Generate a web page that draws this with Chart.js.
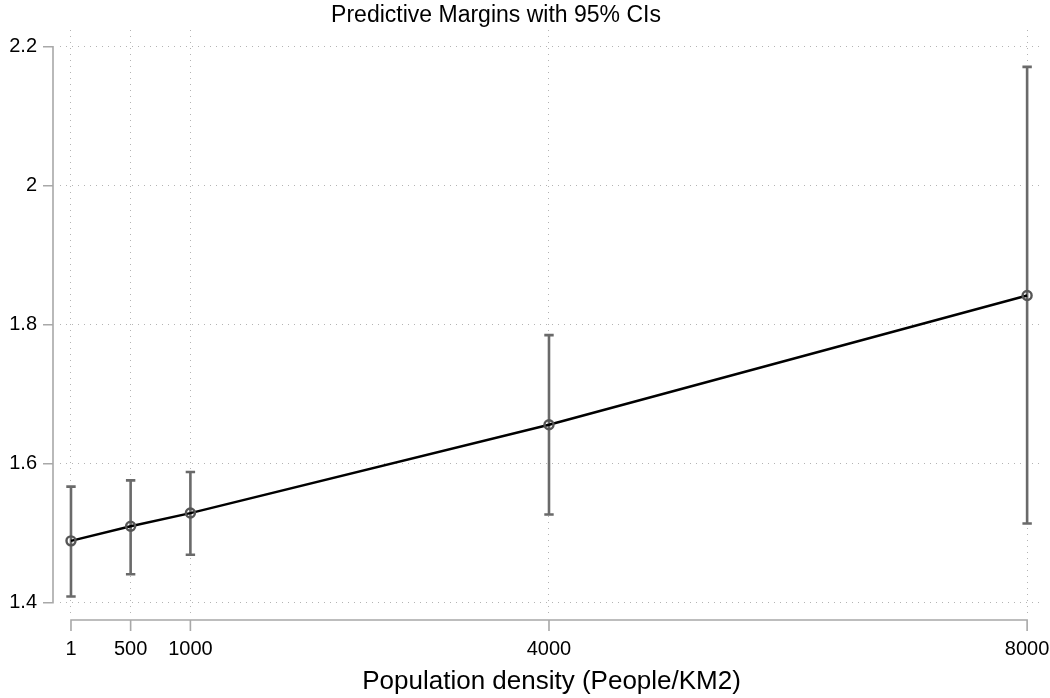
<!DOCTYPE html>
<html>
<head>
<meta charset="utf-8">
<script src="https://cdn.jsdelivr.net/npm/chart.js@4/dist/chart.umd.min.js"></script>
<style>
  html, body { margin: 0; padding: 0; background: #fff; }
  #wrap { width: 1050px; height: 698px; position: relative; }
</style>
</head>
<body>
<div id="wrap"><canvas id="c"></canvas></div>
<script>
// ---- data ----
const densities = [1, 500, 1000, 4000, 8000];
const margins   = [1.489, 1.510, 1.529, 1.656, 1.842];
const ciLower   = [1.409, 1.441, 1.469, 1.527, 1.514];
const ciUpper   = [1.567, 1.576, 1.588, 1.785, 2.171];
const xTicks    = [1, 500, 1000, 4000, 8000];
const yTicks    = [1.4, 1.6, 1.8, 2.0, 2.2];
const yTickLabels = ['1.4', '1.6', '1.8', '2', '2.2'];
const chartTitle = 'Predictive Margins with 95% CIs';
const xTitle = 'Population density (People/KM2)';

const FONT = '"Liberation Sans", Arial, Helvetica, sans-serif';

const points = densities.map((d, i) => ({ x: d, y: margins[i] }));

const errorBars = {
  id: 'errorBars',
  beforeDatasetsDraw(chart) {
    const { ctx, scales: { x, y } } = chart;
    ctx.save();
    ctx.strokeStyle = '#6a6a6a';
    ctx.lineWidth = 2.6;
    ctx.lineCap = 'butt';
    densities.forEach((d, i) => {
      const px = x.getPixelForValue(d);
      const pLo = y.getPixelForValue(ciLower[i]);
      const pHi = y.getPixelForValue(ciUpper[i]);
      ctx.beginPath();
      ctx.moveTo(px, pLo); ctx.lineTo(px, pHi);
      ctx.moveTo(px - 4.7, pLo); ctx.lineTo(px + 4.7, pLo);
      ctx.moveTo(px - 4.7, pHi); ctx.lineTo(px + 4.7, pHi);
      ctx.stroke();
    });
    ctx.restore();
  }
};

const stataAxes = {
  id: 'stataAxes',
  afterDraw(chart) {
    const { ctx, scales: { x, y } } = chart;
    ctx.save();
    ctx.strokeStyle = '#a8a8a8';
    ctx.lineWidth = 1.6;
    // y axis
    const ax = 53;
    ctx.beginPath();
    ctx.moveTo(ax, y.getPixelForValue(yTicks[0]) + 0.8);
    ctx.lineTo(ax, y.getPixelForValue(yTicks[yTicks.length - 1]) - 0.8);
    yTicks.forEach(t => {
      const py = y.getPixelForValue(t);
      ctx.moveTo(43, py); ctx.lineTo(ax, py);
    });
    ctx.stroke();
    // x axis
    const ay = 620;
    ctx.beginPath();
    ctx.moveTo(x.getPixelForValue(xTicks[0]) - 0.8, ay);
    ctx.lineTo(x.getPixelForValue(xTicks[xTicks.length - 1]) + 0.8, ay);
    xTicks.forEach(t => {
      const px = x.getPixelForValue(t);
      ctx.moveTo(px, ay); ctx.lineTo(px, 631);
    });
    ctx.stroke();
    // title
    ctx.fillStyle = '#000';
    ctx.font = '23px ' + FONT;
    ctx.textAlign = 'center';
    ctx.textBaseline = 'alphabetic';
    ctx.fillText(chartTitle, 496, 22);
    ctx.restore();
  }
};

const gridOpts = {
  display: true,
  drawTicks: false,
  color: '#b4b4b4',
  lineWidth: 1,
  borderDash: [1, 5]
};
const borderOpts = { display: false, dash: [1, 5] };

new Chart(document.getElementById('c'), {
  type: 'scatter',
  data: {
    datasets: [{
      data: points,
      showLine: true,
      borderColor: '#000',
      borderWidth: 2.4,
      pointRadius: 4.5,
      pointBorderWidth: 2.4,
      pointBorderColor: '#555555',
      pointBackgroundColor: 'rgba(0,0,0,0)',
      tension: 0
    }]
  },
  options: {
    responsive: true,
    maintainAspectRatio: false,
    animation: false,
    layout: { padding: { top: 30, right: 6, left: 0, bottom: 0 } },
    plugins: {
      legend: { display: false },
      tooltip: { enabled: false },
      title: { display: false }
    },
    scales: {
      x: {
        type: 'linear',
        min: -90.9,
        max: 8133.7,
        afterBuildTicks: s => { s.ticks = xTicks.map(v => ({ value: v })); },
        afterFit: s => { s.height = 85; s.paddingLeft = 0; s.paddingRight = 0; },
        border: borderOpts,
        grid: gridOpts,
        ticks: {
          padding: 24,
          maxRotation: 0,
          autoSkip: false,
          color: '#000',
          font: { family: FONT, size: 20 },
          callback: v => String(v)
        },
        title: {
          display: true,
          text: xTitle,
          color: '#000',
          font: { family: FONT, size: 26 },
          padding: { top: 0, bottom: 1 }
        }
      },
      y: {
        type: 'linear',
        min: 1.3852,
        max: 2.224,
        afterBuildTicks: s => { s.ticks = yTicks.map(v => ({ value: v })); },
        afterFit: s => { s.width = 60; s.paddingTop = 0; s.paddingBottom = 0; },
        border: borderOpts,
        grid: gridOpts,
        ticks: {
          padding: 23,
          autoSkip: false,
          color: '#000',
          font: { family: FONT, size: 20 },
          callback: v => yTickLabels[yTicks.findIndex(t => Math.abs(t - v) < 1e-9)]
        }
      }
    }
  },
  plugins: [errorBars, stataAxes]
});
</script>
</body>
</html>
